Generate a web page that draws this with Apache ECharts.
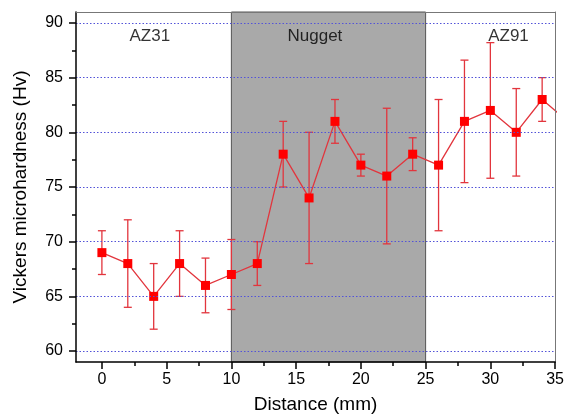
<!DOCTYPE html>
<html>
<head>
<meta charset="utf-8">
<script src="https://cdn.jsdelivr.net/npm/echarts@6/dist/echarts.min.js"></script>
<style>
html,body{margin:0;padding:0;background:#fff;}
#chart{width:567px;height:419px;}
</style>
</head>
<body>
<div id="chart"></div>
<script>
const distance = [0, 2, 4, 6, 8, 10, 12, 14, 16, 18, 20, 22, 24, 26, 28, 30, 32, 34, 36];
const hardness = [69, 68, 65, 68, 66, 67, 68, 78, 74, 81, 77, 76, 78, 77, 81, 82, 80, 83, 81];
const errLow  = [67, 64, 62, 65, 63.5, 63.8, 66, 75, 68, 79, 76, 69.8, 76.5, 71, 75.4, 75.8, 76, 81, null];
const errHigh = [71, 72, 68, 71, 68.5, 70.2, 70, 81, 80, 83, 78, 82.2, 79.5, 83, 86.6, 88.2, 84, 85, null];
const xTicks = [0, 5, 10, 15, 20, 25, 30, 35];
const xMinorTicks = [2.5, 7.5, 12.5, 17.5, 22.5, 27.5, 32.5];
const yTicks = [60, 65, 70, 75, 80, 85, 90];
const yMinorTicks = [62.5, 67.5, 72.5, 77.5, 82.5, 87.5];
const regionNames = ['AZ31', 'Nugget', 'AZ91'];
const nuggetRange = [10, 25];

const FONT = '"Liberation Sans", Arial, Helvetica, sans-serif';
const RED_LINE = '#e2353d';

const chart = echarts.init(document.getElementById('chart'), null, {renderer: 'canvas'});

const xMin = -2, xMax = 35, yMin = 59, yMax = 91;

const baseX = {type: 'value', min: xMin, max: xMax, splitLine: {show: false}};
const baseY = {type: 'value', min: yMin, max: yMax, splitLine: {show: false}};

const errData = distance.map((d, i) => [d, errLow[i], errHigh[i]]).filter(r => r[1] != null);
const labelPos = [[3.7, 88.75], [16.45, 88.75], [31.4, 88.75]];

const option = {
  animation: false,
  backgroundColor: '#fff',
  textStyle: {fontFamily: FONT},
  grid: {left: 76, right: 9, top: 12, bottom: 56, containLabel: false},
  xAxis: [
    Object.assign({}, baseX, {
      position: 'bottom', z: 10,
      name: 'Distance (mm)', nameLocation: 'middle', nameGap: 33,
      nameTextStyle: {fontSize: 19, color: '#000', fontFamily: FONT},
      axisLine: {show: true, onZero: false, lineStyle: {color: '#000', width: 1.5}},
      axisTick: {show: true, customValues: xTicks, length: 7, inside: false, lineStyle: {color: '#000', width: 1.5}},
      axisLabel: {show: true, customValues: xTicks, fontSize: 16, color: '#000', margin: 10, fontFamily: FONT}
    }),
    Object.assign({}, baseX, {
      position: 'bottom', z: 10,
      axisLine: {show: false, onZero: false},
      axisTick: {show: true, customValues: xMinorTicks, length: 4, inside: false, lineStyle: {color: '#000', width: 1.5}},
      axisLabel: {show: false}
    }),
    Object.assign({}, baseX, {
      position: 'top', z: 10,
      axisLine: {show: true, onZero: false, lineStyle: {color: '#777', width: 1}},
      axisTick: {show: false}, axisLabel: {show: false}
    })
  ],
  yAxis: [
    Object.assign({}, baseY, {
      position: 'left', z: 10,
      name: 'Vickers microhardness (Hv)', nameLocation: 'middle', nameGap: 46,
      nameTextStyle: {fontSize: 19, color: '#000', fontFamily: FONT},
      axisLine: {show: true, onZero: false, lineStyle: {color: '#000', width: 1.5}},
      axisTick: {show: true, customValues: yTicks, length: 7, inside: false, lineStyle: {color: '#000', width: 1.5}},
      axisLabel: {show: true, customValues: yTicks, fontSize: 16, color: '#000', margin: 13, fontFamily: FONT}
    }),
    Object.assign({}, baseY, {
      position: 'left', z: 10,
      axisLine: {show: false, onZero: false},
      axisTick: {show: true, customValues: yMinorTicks, length: 4, inside: false, lineStyle: {color: '#000', width: 1.5}},
      axisLabel: {show: false}
    }),
    Object.assign({}, baseY, {
      position: 'right', z: 10,
      axisLine: {show: true, onZero: false, lineStyle: {color: '#777', width: 1}},
      axisTick: {show: false}, axisLabel: {show: false}
    })
  ],
  series: [
    {
      type: 'line', name: 'nugget', z: 1, data: [], silent: true,
      markArea: {
        silent: true,
        itemStyle: {color: '#a9a9a9', borderColor: '#555', borderWidth: 1},
        data: [[{xAxis: nuggetRange[0], yAxis: yMin}, {xAxis: nuggetRange[1], yAxis: yMax}]]
      }
    },
    {
      type: 'line', name: 'grid', z: 2, data: [], silent: true,
      markLine: {
        silent: true, symbol: 'none',
        label: {show: false},
        lineStyle: {color: '#5252d8', type: [1.5, 2], width: 1},
        data: yTicks.map(v => ({yAxis: v}))
      }
    },
    {
      type: 'custom', name: 'err', z: 3, clip: true,
      data: errData,
      renderItem: function (params, api) {
        const x = api.value(0), lo = api.value(1), hi = api.value(2);
        const t = api.coord([x, hi]);
        const b = api.coord([x, lo]);
        const hw = 4;
        const st = {stroke: RED_LINE, lineWidth: 1.3};
        return {
          type: 'group',
          children: [
            {type: 'line', shape: {x1: t[0], y1: t[1], x2: b[0], y2: b[1]}, style: st},
            {type: 'line', shape: {x1: t[0] - hw, y1: t[1], x2: t[0] + hw, y2: t[1]}, style: st},
            {type: 'line', shape: {x1: b[0] - hw, y1: b[1], x2: b[0] + hw, y2: b[1]}, style: st}
          ]
        };
      }
    },
    {
      type: 'line', name: 'Hv', z: 4, clip: true,
      data: distance.map((d, i) => [d, hardness[i]]),
      symbol: 'rect', symbolSize: 9,
      itemStyle: {color: '#ff0000'},
      lineStyle: {color: RED_LINE, width: 1.3}
    },
    {
      type: 'scatter', name: 'labels', z: 5, silent: true,
      symbolSize: 0,
      data: regionNames.map((n, i) => ({value: labelPos[i], name: n})),
      label: {
        show: true, position: 'inside', formatter: '{b}',
        fontSize: 17, color: '#000', fontFamily: FONT
      }
    }
  ]
};
chart.setOption(option);
</script>
</body>
</html>
